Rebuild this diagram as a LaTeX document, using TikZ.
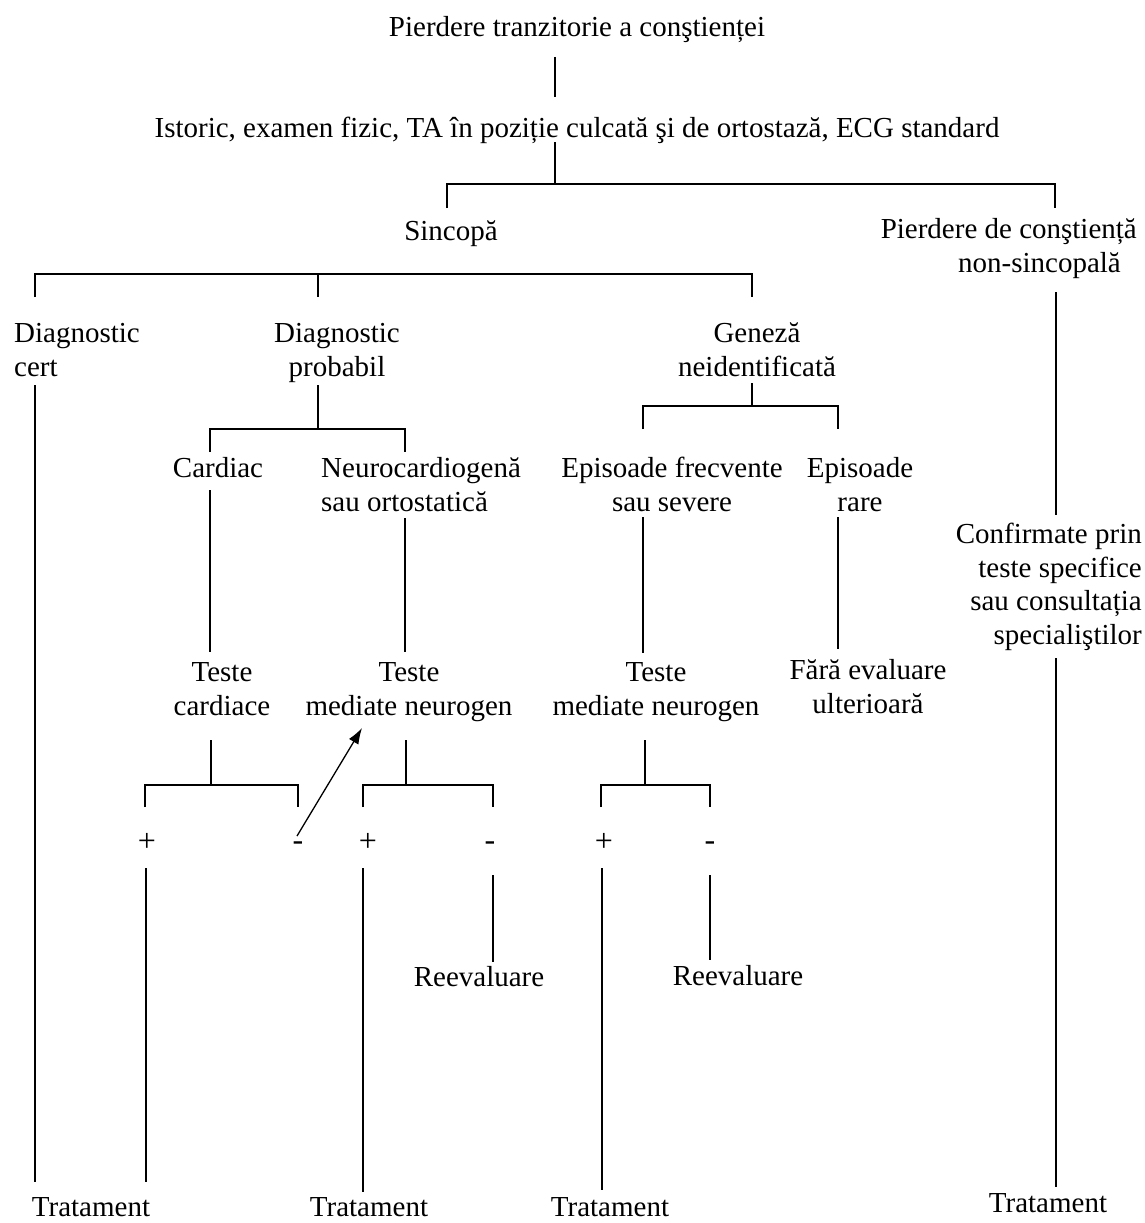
\documentclass[tikz,border=0pt]{standalone}
\usepackage{fontspec}
\setmainfont{Liberation Serif}
\usetikzlibrary{arrows.meta}
\begin{document}
\begin{tikzpicture}[x=1pt,y=-1pt,
  lbl/.style={font=\fontsize{29}{33.5}\selectfont, inner sep=0pt, anchor=base, align=center},
  sgn/.style={font=\fontsize{32}{36}\selectfont, inner sep=0pt},
  conn/.style={line width=1.3pt, line cap=butt},
  arr/.style={line width=1.3pt, -{Latex[length=16pt,width=11pt]}},
]
\useasboundingbox (0,0) rectangle (1145,1223);

% ---- text nodes (base = baseline of the last line)
\node[lbl] (tloc) at (577,37) {Pierdere tranzitorie a conştienței};
\node[lbl] (eval) at (577,137) {Istoric, examen fizic, TA în poziție culcată şi de ortostază, ECG standard};
\node[lbl] (sinc) at (451,240) {Sincopă};
\node[lbl, align=right, anchor=base east] (nonsinc) at (1137,272) {Pierdere de conştiență\\non-sincopală\hspace*{16pt}};
\node[lbl, align=left, anchor=base west] (cert) at (14,376) {Diagnostic\\cert};
\node[lbl] (prob) at (337,376) {Diagnostic\\probabil};
\node[lbl] (gen) at (757,376) {Geneză\\neidentificată};
\node[lbl] (card) at (218,477) {Cardiac};
\node[lbl, align=left, anchor=base west] (neuro) at (321,511) {Neurocardiogenă\\sau ortostatică};
\node[lbl] (freq) at (672,511) {Episoade frecvente\\sau severe};
\node[lbl] (rare) at (860,511) {Episoade\\rare};
\node[lbl, align=right, anchor=base east] (conf) at (1142,644) {Confirmate prin\\teste specifice\\sau consultația\\specialiştilor};
\node[lbl] (tc) at (222,715) {Teste\\cardiace};
\node[lbl] (tmn1) at (409,715) {Teste\\mediate neurogen};
\node[lbl] (tmn2) at (656,715) {Teste\\mediate neurogen};
\node[lbl] (fara) at (868,713) {Fără evaluare\\ulterioară};
\node[sgn] (p1) at (147,842) {+};
\node[sgn] (m1) at (298,846) {-};
\node[sgn] (p2) at (368,842) {+};
\node[sgn] (m2) at (490,846) {-};
\node[sgn] (p3) at (604,842) {+};
\node[sgn] (m3) at (710,846) {-};
\node[lbl] (re1) at (479,986) {Reevaluare};
\node[lbl] (re2) at (738,985) {Reevaluare};
\node[lbl] (tr1) at (91,1216) {Tratament};
\node[lbl] (tr2) at (369,1216) {Tratament};
\node[lbl] (tr3) at (610,1216) {Tratament};
\node[lbl] (tr4) at (1048,1212) {Tratament};

% ---- connector end points
\path (555,57) coordinate (a1) (555,97) coordinate (a2)
      (555,142) coordinate (b1) (555,184) coordinate (b2)
      (447,208) coordinate (b3) (447,184) coordinate (b4)
      (1055,184) coordinate (b5) (1055,208) coordinate (b6)
      (35,297) coordinate (c1) (35,274) coordinate (c2)
      (752,274) coordinate (c3) (752,297) coordinate (c4)
      (318,274) coordinate (c5) (318,297) coordinate (c6)
      (1056,292) coordinate (d1) (1056,515) coordinate (d2)
      (1056,658) coordinate (d3) (1056,1187) coordinate (d4)
      (35,385) coordinate (e1) (35,1182) coordinate (e2)
      (318,385) coordinate (f1) (318,429) coordinate (f2)
      (210,452) coordinate (f3) (210,429) coordinate (f4)
      (405,429) coordinate (f5) (405,452) coordinate (f6)
      (752,383) coordinate (g1) (752,406) coordinate (g2)
      (643,429) coordinate (g3) (643,406) coordinate (g4)
      (838,406) coordinate (g5) (838,429) coordinate (g6)
      (210,490) coordinate (h1) (210,652) coordinate (h2)
      (405,518) coordinate (h3) (405,652) coordinate (h4)
      (643,517) coordinate (h5) (643,653) coordinate (h6)
      (838,517) coordinate (h7) (838,649) coordinate (h8)
      (211,740) coordinate (i1) (211,785) coordinate (i2)
      (145,807) coordinate (i3) (145,785) coordinate (i4)
      (298,785) coordinate (i5) (298,807) coordinate (i6)
      (406,740) coordinate (j1) (406,785) coordinate (j2)
      (363,807) coordinate (j3) (363,785) coordinate (j4)
      (493,785) coordinate (j5) (493,807) coordinate (j6)
      (645,740) coordinate (k1) (645,785) coordinate (k2)
      (601,807) coordinate (k3) (601,785) coordinate (k4)
      (710,785) coordinate (k5) (710,807) coordinate (k6)
      (146,868) coordinate (l1) (146,1182) coordinate (l2)
      (363,868) coordinate (l3) (363,1192) coordinate (l4)
      (493,875) coordinate (l5) (493,962) coordinate (l6)
      (602,868) coordinate (l7) (602,1190) coordinate (l8)
      (710,875) coordinate (l9) (710,960) coordinate (l10)
      (297,836) coordinate (x1) (362,728) coordinate (x2);

% ---- connectors
\draw[conn] (a1) -- (a2);
\draw[conn] (b1) -- (b2);
\draw[conn] (b3) -- (b4) -- (b5) -- (b6);
\draw[conn] (c1) -- (c2) -- (c3) -- (c4);
\draw[conn] (c5) -- (c6);
\draw[conn] (d1) -- (d2);
\draw[conn] (d3) -- (d4);
\draw[conn] (e1) -- (e2);
\draw[conn] (f1) -- (f2);
\draw[conn] (f3) -- (f4) -- (f5) -- (f6);
\draw[conn] (g1) -- (g2);
\draw[conn] (g3) -- (g4) -- (g5) -- (g6);
\draw[conn] (h1) -- (h2);
\draw[conn] (h3) -- (h4);
\draw[conn] (h5) -- (h6);
\draw[conn] (h7) -- (h8);
\draw[conn] (i1) -- (i2);
\draw[conn] (i3) -- (i4) -- (i5) -- (i6);
\draw[conn] (j1) -- (j2);
\draw[conn] (j3) -- (j4) -- (j5) -- (j6);
\draw[conn] (k1) -- (k2);
\draw[conn] (k3) -- (k4) -- (k5) -- (k6);
\draw[conn] (l1) -- (l2);
\draw[conn] (l3) -- (l4);
\draw[conn] (l5) -- (l6);
\draw[conn] (l7) -- (l8);
\draw[conn] (l9) -- (l10);
\draw[arr] (x1) -- (x2);
\end{tikzpicture}
\end{document}
